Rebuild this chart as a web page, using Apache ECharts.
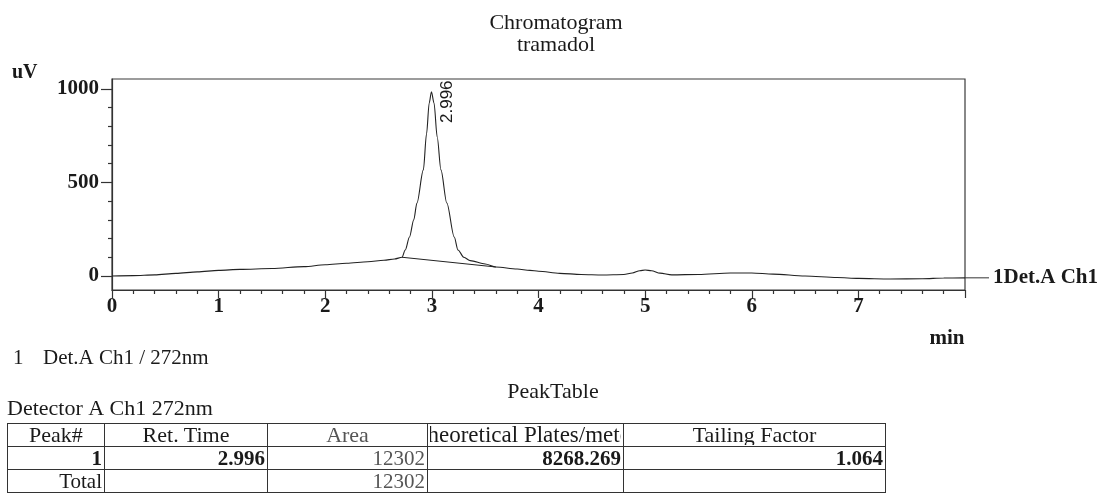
<!DOCTYPE html>
<html>
<head>
<meta charset="utf-8">
<script src="https://cdn.jsdelivr.net/npm/echarts@6/dist/echarts.min.js"></script>
<style>
  body { margin: 0; background: #fff; }
  #main { position: absolute; left: 0; top: 0; width: 1107px; height: 495px; }
  #peaks { position: absolute; left: 7px; top: 423px; border-collapse: collapse; table-layout: fixed;
           width: 878px; font-family: "Liberation Serif", serif; font-size: 21px; color: #1a1a1a; }
  #peaks td, #peaks th { border: 1.5px solid #333; padding: 0 2px; height: 22px; line-height: 20px;
           font-weight: normal; overflow: hidden; white-space: nowrap; }
  #peaks th { font-size: 22px; }
  #peaks th.wide { font-size: 23px; }
  #peaks th div { display: flex; justify-content: center; overflow: hidden; }
  #peaks td { text-align: right; }
  #peaks .b { font-weight: bold; }
  #peaks .lite { color: #555; }
</style>
</head>
<body>
<div id="main"></div>
<table id="peaks"></table>
<script>
// chromatogram trace (min, uV)
const times = [0, 0.2, 0.4, 0.6, 0.8, 1.0, 1.2, 1.5, 1.8, 2.0, 2.2, 2.4, 2.55, 2.65, 2.72,
  2.75, 2.79, 2.83, 2.86, 2.92, 2.95, 2.975, 2.996, 3.02, 3.05, 3.085, 3.14,
  3.21, 3.245, 3.3, 3.36, 3.5, 3.6, 3.8, 3.92, 4.0, 4.2, 4.4, 4.6, 4.8, 4.88, 4.95, 5.0,
  5.06, 5.14, 5.25, 5.5, 5.8, 6.0, 6.2, 6.5, 6.8, 7.0, 7.3, 7.6, 7.8, 8.0];
const signal = [0, 2, 6, 14, 22, 30, 35, 40, 50, 60, 68, 76, 84, 91, 100,
  139, 208, 300, 390, 567, 760, 925, 985, 925, 743, 567, 390,
  208, 139, 100, 82, 64, 48, 37, 30, 25, 14, 8, 5, 8, 16, 28, 32,
  28, 15, 6, 8, 16, 16, 10, 0, -8, -13, -16, -15, -11, -10];

// integration baseline under the peak
const baseTimes = [2.72, 3.6];
const baseValues = [100, 48];

const peakTime = 2.996;
const peakValue = 985;
const peakName = '2.996';

const yMajorTicks = [0, 500, 1000];
const yMinorTicks = [100, 200, 300, 400, 600, 700, 800, 900];

// peak table
const tableHead = ['Peak#', 'Ret. Time', 'Area', 'Theoretical Plates/meter', 'Tailing Factor'];
const tableRow = ['1', '2.996', '12302', '8268.269', '1.064'];
const tableTotal = ['Total', '', '12302', '', ''];
const colWidths = [97, 163, 160, 196, 262];

const serif = '"Liberation Serif", "Times New Roman", serif';
const ink = '#1a1a1a';

let chart = echarts.init(document.getElementById('main'));

const txt = (text, x, y, size, bold, align) => ({
  type: 'text', x: x, y: y, silent: true,
  style: { text: text, fill: ink, align: align || 'left', verticalAlign: 'middle',
           font: (bold ? 'bold ' : '') + size + 'px ' + serif }
});

const axisStyle = { color: '#333', width: 1.2 };

option = {
  animation: false,
  grid: { left: 112, top: 79, width: 853, height: 211, show: true,
          borderColor: '#3a3a3a', borderWidth: 1.2 },
  xAxis: {
    type: 'value', min: 0, max: 8, interval: 1,
    axisLine: { show: true, onZero: false, lineStyle: axisStyle },
    axisTick: { show: true, length: 8, lineStyle: axisStyle },
    minorTick: { show: true, splitNumber: 5, length: 4, lineStyle: axisStyle },
    splitLine: { show: false },
    axisLabel: { fontFamily: serif, fontWeight: 'bold', fontSize: 21, color: ink,
                 margin: 6, showMaxLabel: false }
  },
  yAxis: [
    {
      type: 'value', min: -75, max: 1053, position: 'left', offset: 0,
      axisLine: { show: true, onZero: false, lineStyle: axisStyle },
      axisTick: { show: true, length: 11, customValues: yMajorTicks, lineStyle: axisStyle },
      splitLine: { show: false },
      axisLabel: { customValues: yMajorTicks, fontFamily: serif, fontWeight: 'bold',
                   fontSize: 21, color: ink, margin: 13, formatter: v => String(v) }
    },
    {
      type: 'value', min: -75, max: 1053, position: 'left', offset: 0,
      axisLine: { show: false },
      axisTick: { show: true, length: 4, customValues: yMinorTicks, lineStyle: axisStyle },
      splitLine: { show: false },
      axisLabel: { show: false }
    }
  ],
  series: [
    {
      type: 'line', data: times.map((t, i) => [t, signal[i]]),
      showSymbol: false, smooth: 0.3, smoothMonotone: 'x',
      lineStyle: { color: '#222', width: 1.1 }, silent: true
    },
    {
      type: 'line', data: baseTimes.map((t, i) => [t, baseValues[i]]),
      showSymbol: false, lineStyle: { color: '#222', width: 1 }, silent: true
    }
  ],
  graphic: [
    txt('Chromatogram', 556, 23, 22, false, 'center'),
    txt('tramadol', 556, 45, 22, false, 'center'),
    txt('uV', 12, 73, 20, true),
    txt('min', 947, 339, 21, true, 'center'),
    txt('1', 13, 358, 21, false),
    txt('Det.A Ch1 / 272nm', 43, 358, 21, false),
    txt('PeakTable', 553, 392, 22, false, 'center'),
    txt('Detector A Ch1 272nm', 7, 409, 22, false)
  ]
};
chart.setOption(option);

// labels tied to the data through the chart's own scales
let pk = chart.convertToPixel({ seriesIndex: 0 }, [peakTime, peakValue]);
let end = chart.convertToPixel({ seriesIndex: 0 }, [times[times.length - 1], signal[signal.length - 1]]);
chart.setOption({
  graphic: option.graphic.concat([
    { type: 'text', x: pk[0] + 16, y: pk[1] + 10, rotation: Math.PI / 2, silent: true,
      style: { text: peakName, fill: ink, align: 'center', verticalAlign: 'middle',
               font: '17px "Liberation Sans", Arial, sans-serif' } },
    { type: 'line', silent: true, shape: { x1: end[0], y1: end[1], x2: end[0] + 24, y2: end[1] },
      style: { stroke: '#333', lineWidth: 1 } },
    txt('1Det.A Ch1', end[0] + 28, end[1], 21, true)
  ])
});

// peak table
let tbl = document.getElementById('peaks');
let html = '<colgroup>' + colWidths.map(w => '<col style="width:' + w + 'px">').join('') + '</colgroup>';
html += '<tr>' + tableHead.map((h, i) =>
  '<th' + (i === 3 ? ' class="wide"' : '') + '><div' + (i === 2 ? ' class="lite"' : '') + '>' +
  h + '</div></th>').join('') + '</tr>';
html += '<tr>' + tableRow.map((v, i) => '<td class="' + (i === 2 ? 'lite' : 'b') + '">' + v + '</td>').join('') + '</tr>';
html += '<tr>' + tableTotal.map((v, i) => '<td class="' + (i === 2 ? 'lite' : '') + '">' + v + '</td>').join('') + '</tr>';
tbl.innerHTML = html;
</script>
</body>
</html>
